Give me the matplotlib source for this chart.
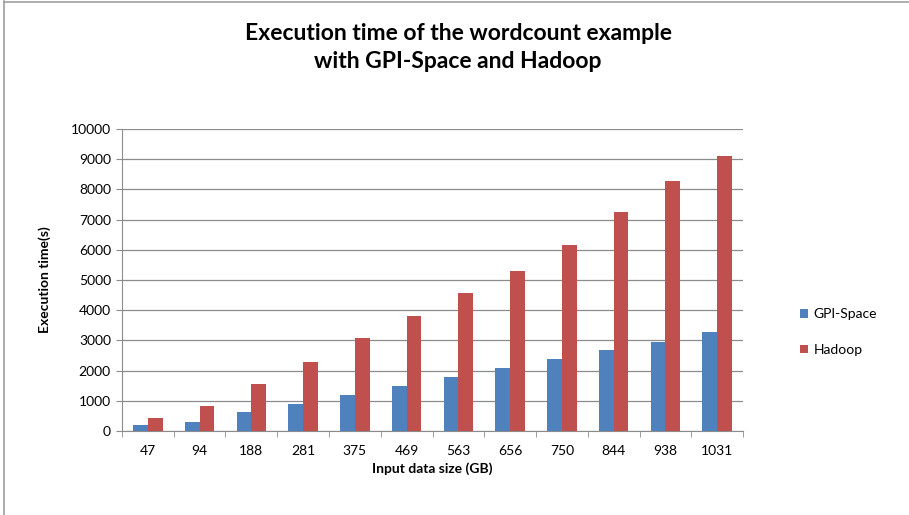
import matplotlib.pyplot as plt
import numpy as np
from matplotlib.lines import Line2D

plt.rcParams['font.family'] = ['Lato', 'DejaVu Sans']

sizes = ['47', '94', '188', '281', '375', '469', '563', '656', '750', '844', '938', '1031']
gpi_space = [190, 310, 620, 895, 1180, 1490, 1775, 2085, 2370, 2680, 2955, 3265]
hadoop = [440, 815, 1555, 2295, 3070, 3805, 4570, 5310, 6160, 7260, 8265, 9095]

blue = '#4F81BD'
red = '#C0504D'

fig = plt.figure(figsize=(9.09, 5.15), dpi=100)
ax = fig.add_axes([0.1342, 0.1631, 0.6832, 0.5864])

x = np.arange(len(sizes))
w = 0.284
ax.bar(x - w / 2, gpi_space, w, color=blue, label='GPI-Space', zorder=3)
ax.bar(x + w / 2, hadoop, w, color=red, label='Hadoop', zorder=3)

ax.set_xlim(-0.5, len(sizes) - 0.5)
ax.set_ylim(0, 10000)
ax.set_yticks(np.arange(0, 10001, 1000))
ax.yaxis.grid(True, color='#8c8c8c', linewidth=0.9, zorder=0)

ax.set_xticks(x)
ax.set_xticklabels(sizes, fontsize=10)
ax.set_xticks(np.arange(-0.5, len(sizes), 1), minor=True)
ax.tick_params(axis='x', which='major', length=0, pad=10)
ax.tick_params(axis='x', which='minor', length=4, color='#8c8c8c')
ax.tick_params(axis='y', length=4, color='#8c8c8c', labelsize=10, pad=4)

for s in ['top', 'right']:
    ax.spines[s].set_visible(False)
for s in ['left', 'bottom']:
    ax.spines[s].set_color('#8c8c8c')

ax.set_xlabel('Input data size (GB)', fontsize=10, fontweight='bold', labelpad=4)
ax.set_ylabel('Execution time(s)', fontsize=10, fontweight='bold', labelpad=14)

fig.text(0.504, 0.907, 'Execution time of the wordcount example\nwith GPI-Space and Hadoop',
         ha='center', va='center', fontsize=16.5, fontweight='bold', linespacing=1.4)

leg = fig.legend(loc='center left', bbox_to_anchor=(0.866, 0.355), frameon=False,
                 fontsize=10, handlelength=0.6, handleheight=0.6, handletextpad=0.4,
                 labelspacing=1.7)

# chart frame
fig.add_artist(Line2D([0.0045, 0.0045], [0, 0.998], color='#a0a0a0', linewidth=1.2))
fig.add_artist(Line2D([0.0045, 1], [0.997, 0.997], color='#a0a0a0', linewidth=1.2))

fig.savefig('out.png', dpi=100)
